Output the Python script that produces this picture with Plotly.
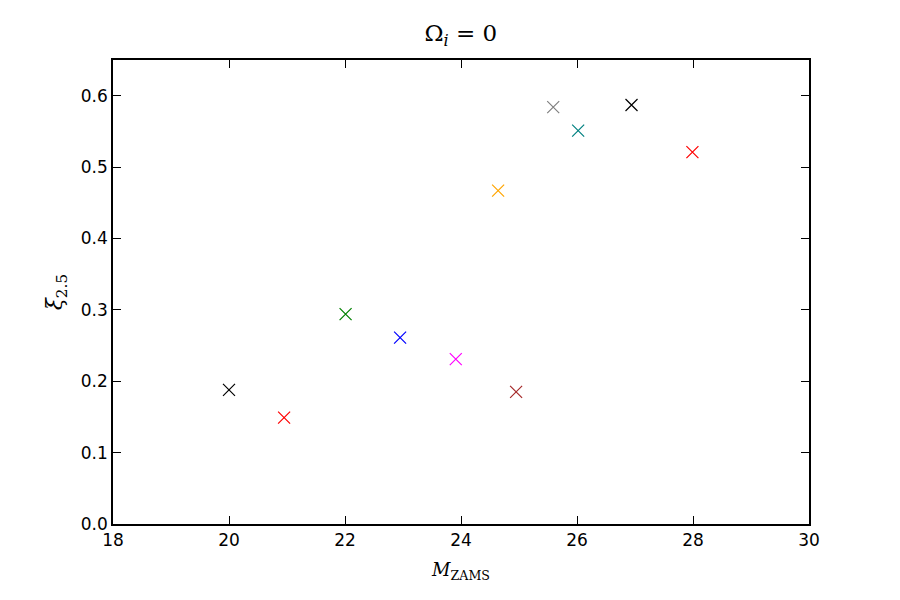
import plotly.graph_objects as go

mass = [20.00, 20.95, 22.01, 22.95, 23.91, 24.95, 24.64, 25.59, 26.02, 26.94, 27.99]
xi25 = [0.188, 0.149, 0.294, 0.261, 0.231, 0.185, 0.467, 0.584, 0.551, 0.587, 0.521]
colors = ["black", "red", "green", "blue", "magenta", "brown", "orange", "gray", "teal", "black", "red"]

fig = go.Figure()
fig.add_trace(go.Scatter(
    x=mass, y=xi25, mode="markers",
    marker=dict(symbol="x-thin-open", size=12, color=colors,
                line=dict(color=colors, width=1.2)),
    showlegend=False, hoverinfo="x+y"))

axis_common = dict(showgrid=False, zeroline=False, showline=True, linecolor="black",
                   linewidth=1.5, mirror="ticks", ticks="inside", ticklen=8,
                   tickwidth=1.2, tickcolor="black",
                   tickfont=dict(family="DejaVu Sans", size=17, color="black"))

fig.update_layout(
    width=900, height=600,
    paper_bgcolor="white", plot_bgcolor="white",
    margin=dict(l=113, r=91, t=60, b=76),
    title=dict(text="Ω<sub><i>i</i></sub> = 0", x=0.512, xanchor="center",
               y=0.945, yanchor="middle",
               font=dict(family="DejaVu Serif", size=23, color="black")),
    xaxis=dict(range=[18, 30], tickvals=[18, 20, 22, 24, 26, 28, 30],
               ticktext=["18", "20", "22", "24", "26", "28", "30"],
               title=dict(text="<i>M</i><sub>ZAMS</sub>", standoff=14,
                          font=dict(family="DejaVu Serif", size=18, color="black")),
               **axis_common),
    yaxis=dict(range=[0, 0.65], tickvals=[0, 0.1, 0.2, 0.3, 0.4, 0.5, 0.6],
               ticktext=["0.0", "0.1", "0.2", "0.3", "0.4", "0.5", "0.6"],
               title=dict(text="<i>ξ</i><sub>2.5</sub>", standoff=12,
                          font=dict(family="DejaVu Serif", size=22, color="black")),
               **axis_common),
)

fig.write_html("out.html")
